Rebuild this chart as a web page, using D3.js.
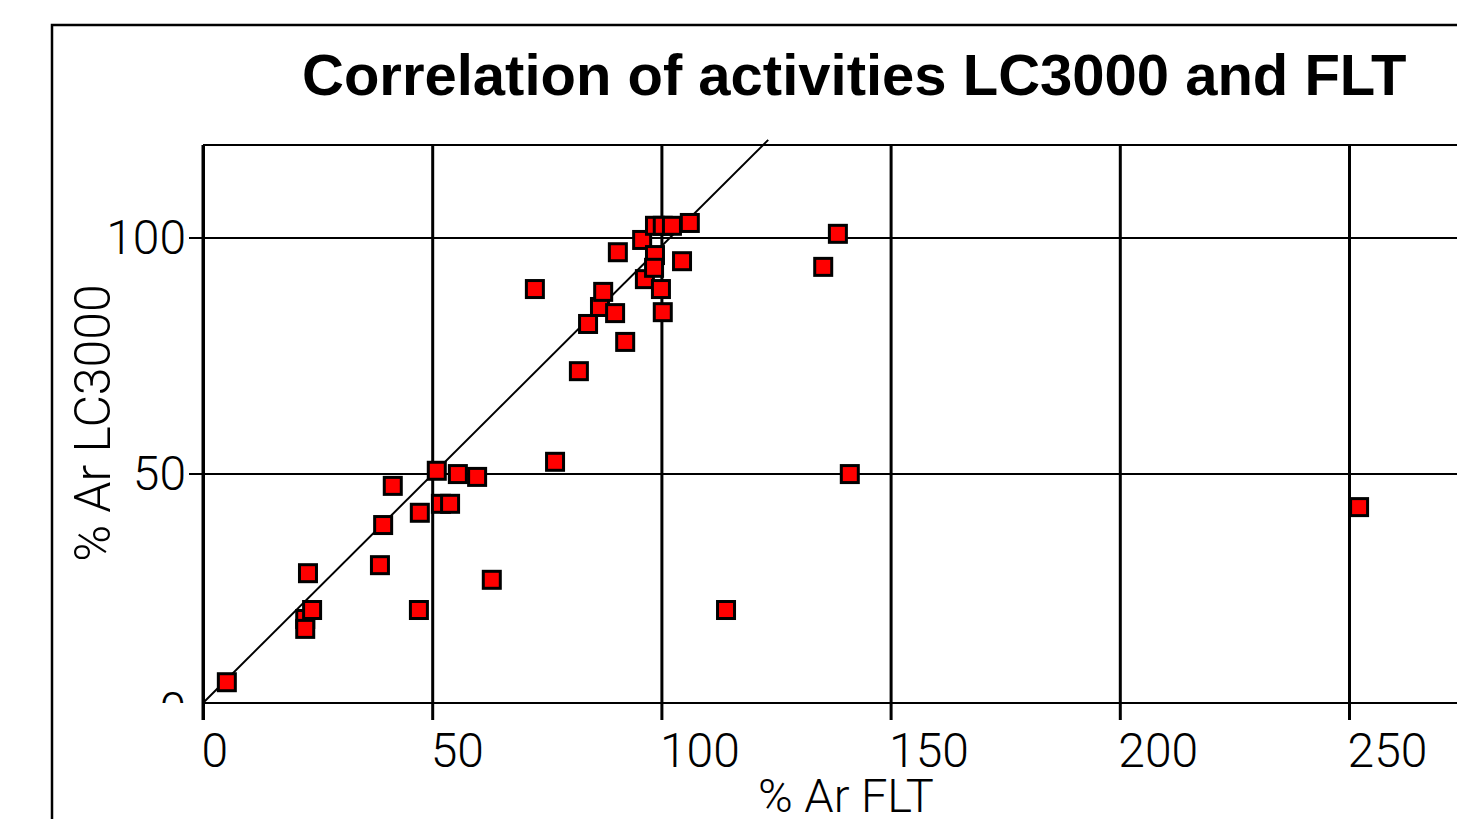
<!DOCTYPE html>
<html>
<head>
<meta charset="utf-8">
<script src="https://cdn.jsdelivr.net/npm/d3@7"></script>
<style>
  body { margin: 0; background: #fff; }
  svg { display: block; }
</style>
</head>
<body>
<div id="chart"></div>
<script>
// data: % Ar FLT (x) against % Ar LC3000 (y)
var fltValues = [5.2, 22.3, 22.3, 23.8, 22.9, 38.6, 47.1, 39.3, 47.3, 41.4,
                 51.0, 55.6, 59.8, 51.9, 53.9, 63.0, 76.8, 72.4, 82.0, 84.0,
                 92.1, 86.6, 87.3, 89.9, 90.5, 95.8, 96.4, 98.6, 98.4, 99.9,
                 100.3, 104.5, 98.6, 100.3, 102.3, 106.2, 135.3, 138.5, 141.1, 114.1,
                 252.2];
var lcValues  = [5.8, 19.2, 17.1, 21.1, 28.9, 30.6, 21.1, 39.1, 41.7, 47.4,
                 50.6, 49.9, 49.3, 43.6, 43.6, 27.5, 52.5, 89.1, 71.7, 81.7,
                 77.9, 85.3, 88.5, 84.0, 96.9, 99.5, 91.2, 96.3, 93.6, 89.1,
                 84.2, 95.0, 102.5, 102.5, 102.5, 103.1, 93.8, 100.8, 49.9, 21.1,
                 42.9];
var xTickValues = [0, 50, 100, 150, 200, 250];
var yTickValues = [0, 50, 100];
// reference line (equal activity)
var refLine = [[0, 1.4], [123.3, 120.7]];

var chartTitle = "Correlation of activities LC3000 and FLT",
    xTitle = "% Ar FLT",
    yTitle = "% Ar LC3000";

var width = 1457, height = 819;

// set the ranges
var x = d3.scaleLinear().domain([0, 250]).range([203, 1349]);
var y = d3.scaleLinear().domain([0, 100]).range([709.6, 237.6]);
var xEnd = 280, yLow = 1.4, yHigh = 119.6;

var svg = d3.select("#chart").append("svg")
    .attr("width", width)
    .attr("height", height);

var tickFont = "Roboto, 'Liberation Sans', sans-serif";

// outer chart frame
svg.append("path")
    .attr("d", "M52,830 L52,25 L1470,25")
    .attr("fill", "none")
    .attr("stroke", "#000")
    .attr("stroke-width", 2.5);

// title
svg.append("text")
    .attr("x", 302)
    .attr("y", 95)
    .style("font-family", "'Liberation Sans', Arial, sans-serif")
    .style("font-weight", "bold")
    .style("font-size", "58px")
    .text(chartTitle);

// clip so the lowest y label is cut by the x axis (in the y axis group's space)
svg.append("clipPath").attr("id", "above-axis")
  .append("rect")
    .attr("x", -400).attr("y", 0)
    .attr("width", width + 400).attr("height", y(yLow));

// X gridlines + ticks + labels
var xAxis = svg.append("g")
    .attr("transform", "translate(0," + y(yLow) + ")")
    .call(d3.axisBottom(x).tickValues(xTickValues).tickFormat(d3.format("d")));
xAxis.select(".domain").remove();
xAxis.selectAll(".tick line")
    .attr("y1", 17)
    .attr("y2", y(yHigh) - y(yLow))
    .attr("stroke", "#000")
    .attr("stroke-width", 3);
xAxis.selectAll(".tick text")
    .attr("x", -2)
    .attr("y", 64)
    .attr("dy", null)
    .attr("text-anchor", "start")
    .style("font-family", tickFont)
    .style("font-weight", 300)
    .style("font-size", "48px")
    .attr("fill", "#000");

// Y gridlines + ticks + labels
var yAxis = svg.append("g")
    .attr("transform", "translate(" + x(0) + ",0)")
    .attr("clip-path", "url(#above-axis)")
    .call(d3.axisLeft(y).tickValues(yTickValues).tickFormat(d3.format("d")));
yAxis.select(".domain").remove();
yAxis.selectAll(".tick line")
    .attr("x1", -14)
    .attr("x2", x(xEnd) - x(0))
    .attr("stroke", "#000")
    .attr("stroke-width", 2);
yAxis.selectAll(".tick text")
    .attr("x", -17)
    .attr("dy", "0.33em")
    .style("font-family", tickFont)
    .style("font-weight", 300)
    .style("font-size", "48px")
    .attr("fill", "#000");

// plot frame
svg.append("line")
    .attr("x1", x(0)).attr("x2", x(0))
    .attr("y1", y(yHigh)).attr("y2", y(yLow) + 17)
    .attr("stroke", "#000").attr("stroke-width", 3);
svg.append("line")
    .attr("x1", x(0)).attr("x2", x(xEnd))
    .attr("y1", y(yHigh)).attr("y2", y(yHigh))
    .attr("stroke", "#000").attr("stroke-width", 2);
svg.append("line")
    .attr("x1", x(0)).attr("x2", x(xEnd))
    .attr("y1", y(yLow)).attr("y2", y(yLow))
    .attr("stroke", "#000").attr("stroke-width", 2);

// equal-activity line
svg.append("path")
    .datum(refLine)
    .attr("fill", "none")
    .attr("stroke", "#000")
    .attr("stroke-width", 2)
    .attr("d", d3.line()
        .x(function(d) { return x(d[0]); })
        .y(function(d) { return y(d[1]); }));

// the points
var points = fltValues.map(function(v, i) { return {flt: v, lc: lcValues[i]}; });
svg.append("g").selectAll("rect")
    .data(points)
  .enter().append("rect")
    .attr("x", function(d) { return x(d.flt) - 8.5; })
    .attr("y", function(d) { return y(d.lc) - 8.5; })
    .attr("width", 17)
    .attr("height", 17)
    .attr("fill", "#ff0000")
    .attr("stroke", "#000")
    .attr("stroke-width", 3);

// axis titles
svg.append("text")
    .attr("x", 846)
    .attr("y", 812)
    .attr("text-anchor", "middle")
    .style("font-family", tickFont)
    .style("font-weight", 300)
    .style("font-size", "47px")
    .text(xTitle);

svg.append("text")
    .attr("transform", "translate(110,423) rotate(-90)")
    .attr("text-anchor", "middle")
    .style("font-family", tickFont)
    .style("font-weight", 300)
    .style("font-size", "50px")
    .text(yTitle);
</script>
</body>
</html>
